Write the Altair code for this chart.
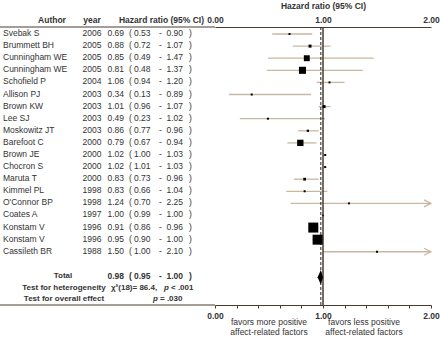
import altair as alt
import pandas as pd

# ---------------- data ----------------
authors = ["Svebak S", "Brummett BH", "Cunningham WE", "Cunningham WE", "Schofield P",
           "Allison PJ", "Brown KW", "Lee SJ", "Moskowitz JT", "Barefoot  C",
           "Brown JE", "Chocron S", "Maruta T", "Kimmel PL", "O'Connor BP",
           "Coates A", "Konstam V", "Konstam V", "Cassileth BR"]
years = [2006, 2005, 2005, 2005, 2004, 2003, 2003, 2003, 2003, 2000,
         2000, 2000, 2000, 1998, 1998, 1997, 1996, 1996, 1988]
hr = [0.69, 0.88, 0.85, 0.81, 1.06, 0.34, 1.01, 0.49, 0.86, 0.79,
      1.02, 1.02, 0.83, 0.83, 1.24, 1.00, 0.91, 0.95, 1.50]
lo = [0.53, 0.72, 0.49, 0.48, 0.94, 0.13, 0.96, 0.23, 0.77, 0.67,
      1.00, 1.01, 0.73, 0.66, 0.70, 0.99, 0.86, 0.90, 1.00]
hi = [0.90, 1.07, 1.47, 1.37, 1.20, 0.89, 1.07, 1.02, 0.96, 0.94,
      1.03, 1.03, 0.96, 1.04, 2.25, 1.00, 0.96, 1.00, 2.10]
weights = [0.8, 1.8, 7.0, 10.0, 0.8, 0.8, 1.8, 0.8, 1.0, 8.0,
           0.8, 0.8, 1.5, 0.8, 0.8, 0.5, 20.0, 20.0, 0.8]

total_hr, total_lo, total_hi = 0.98, 0.95, 1.00
het_text = "χ²(18)= 86.4,"
het_p = "< .001"
overall_p = "= .030"
bottom_ticks = [0.0, 0.2, 0.4, 0.6, 0.8, 1.0, 1.2, 1.4, 1.6, 1.8, 2.0]
favor_left = ["favors more positive", "affect-related factors"]
favor_right = ["favors less positive", "affect-related factors"]

df = pd.DataFrame({"author": authors, "year": years, "hr": hr, "lo": lo,
                   "hi": hi, "w": weights, "row": list(range(len(authors)))})

# ---------------- style ----------------
FONT = "Liberation Sans"
FS = 8.5
FSB = 8
TXT = "#333333"
AX = "#4a3b2e"
CI = "#c8b7a3"
W, H = 216, 278

xs = alt.Scale(domain=[0, 2], nice=False, zero=False)
ys = alt.Scale(domain=[-0.58, 22.4], reverse=True, nice=False, zero=False)
Y = alt.Y("row:Q", scale=ys, axis=None)

TOTAL_ROW, HET_ROW, OV_ROW = 20.1, 21.1, 22.0

top_axis = alt.Axis(orient="top", values=[0, 1, 2], format=".2f", ticks=False,
                    grid=False, domainColor=AX, domainWidth=1, labelFlush=False,
                    labelFont=FONT, labelFontSize=FS, labelFontWeight="bold",
                    labelColor=TXT, labelPadding=3,
                    title="Hazard ratio (95% CI)", titleFont=FONT, titleFontSize=FS,
                    titleFontWeight="bold", titleColor=TXT, titlePadding=5)
bottom_axis = alt.Axis(orient="bottom", values=bottom_ticks, grid=False,
                       tickSize=3, tickColor=AX, domainColor=AX, domainWidth=1,
                       labelExpr="datum.value % 1 === 0 ? format(datum.value, '.2f') : ''",
                       labelFlush=False, labelOverlap=False,
                       labelFont=FONT, labelFontSize=FS, labelFontWeight="bold",
                       labelColor=TXT, labelPadding=3, title=None)

base = alt.Chart(df)

ci = base.transform_calculate(hi_c="min(datum.hi, 2)").mark_rule(
    color=CI, strokeWidth=1.3).encode(
    x=alt.X("lo:Q", scale=xs, axis=top_axis), x2="hi_c", y=Y)

arrows = base.transform_filter("datum.hi > 2").transform_calculate(
    hi_c="min(datum.hi, 2)").mark_point(
    shape="M-1,-0.5L0,0L-1,0.5", filled=False, size=196, color=CI, strokeWidth=1.2,
    opacity=1).encode(x=alt.X("hi_c:Q", scale=xs, axis=None), y=Y)

squares = base.mark_square(color="black", opacity=1).encode(
    x=alt.X("hr:Q", scale=xs, axis=None), y=Y,
    size=alt.Size("w:Q", scale=alt.Scale(domain=[0, 20], range=[0, 100]), legend=None))

ref_df = pd.DataFrame({"v": [1.0]})
ref1 = alt.Chart(ref_df).mark_rule(color=AX, strokeWidth=1.5).encode(
    x=alt.X("v:Q", scale=xs, axis=bottom_axis))
tot_df = pd.DataFrame({"v": [total_hr]})
ref2 = alt.Chart(tot_df).mark_rule(color="#222222", strokeWidth=1, strokeDash=[3, 2]).encode(
    x=alt.X("v:Q", scale=xs, axis=None))

dia_df = pd.DataFrame({"y": [TOTAL_ROW - 0.6, TOTAL_ROW, TOTAL_ROW + 0.6],
                       "xl": [total_hr, total_lo, total_hr],
                       "xr": [total_hr, total_hi, total_hr]})
diamond = alt.Chart(dia_df).mark_area(orient="horizontal", color="black", opacity=1).encode(
    y=alt.Y("y:Q", scale=ys, axis=None),
    x=alt.X("xl:Q", scale=xs, axis=None), x2="xr")


def hline(ypx):
    return alt.Chart(pd.DataFrame({"a": [0]})).mark_rule(color=AX, strokeWidth=1).encode(
        x=alt.value(-215), x2=alt.value(0), y=alt.value(ypx))


def label(text, x, y, align="center", weight="normal", style="normal", size=FS,
          baseline="middle", **kw):
    return alt.Chart(pd.DataFrame({"t": [text]})).mark_text(
        align=align, baseline=baseline, font=FONT, fontSize=size, fontWeight=weight,
        fontStyle=style, color=TXT, **kw).encode(
        text="t", x=alt.value(x), y=alt.value(y))


def tcol(field, x, align, fmt=None):
    t = alt.Text(field, format=fmt) if fmt else alt.Text(field)
    return base.mark_text(align=align, baseline="middle", font=FONT, fontSize=FS,
                          color=TXT, dy=-1).encode(text=t, x=alt.value(x), y=Y)


def ccol(txt, x):
    return base.mark_text(align="center", baseline="middle", font=FONT, fontSize=FS,
                          color=TXT, dy=-1, text=txt).encode(x=alt.value(x), y=Y)


table = [
    tcol("author:N", -212, "left"),
    tcol("year:Q", -123, "center"),
    tcol("hr:Q", -91, "right", ".2f"),
    ccol("(", -84.5),
    tcol("lo:Q", -64.5, "right", ".2f"),
    ccol("-", -54.5),
    tcol("hi:Q", -32, "right", ".2f"),
    ccol(")", -24.5),
]


def ypx(r):
    return (r + 0.58) / 22.98 * H - 1


header = [
    label("Author", -163, -7, weight="bold"),
    label("year", -123, -7, weight="bold"),
    label("Hazard ratio (95% CI)", -53.5, -7, weight="bold"),
]

summary = [
    label("Total", -152, ypx(TOTAL_ROW), weight="bold", size=FSB),
    label(f"{total_hr:.2f}", -91, ypx(TOTAL_ROW), align="right", weight="bold"),
    label("(", -84.5, ypx(TOTAL_ROW), weight="bold"),
    label(f"{total_lo:.2f}", -64.5, ypx(TOTAL_ROW), align="right", weight="bold"),
    label("-", -54.5, ypx(TOTAL_ROW), weight="bold"),
    label(f"{total_hi:.2f}", -32, ypx(TOTAL_ROW), align="right", weight="bold"),
    label(")", -24.5, ypx(TOTAL_ROW), weight="bold"),
    label("Test for heterogeneity", -151, ypx(HET_ROW), weight="bold", size=FSB),
    label(het_text, -104, ypx(HET_ROW), align="left", weight="bold", size=FSB),
    label("p", -51, ypx(HET_ROW), align="left", weight="bold", style="italic", size=FSB),
    label(het_p, -44, ypx(HET_ROW), align="left", weight="bold", size=FSB),
    label("Test for overall effect", -151, ypx(OV_ROW), weight="bold", size=FSB),
    label("p", -62, ypx(OV_ROW), align="left", weight="bold", style="italic", size=FSB),
    label(overall_p, -55, ypx(OV_ROW), align="left", weight="bold", size=FSB),
]

favors = [
    label(favor_left, 54, 13 + H, baseline="top", lineHeight=10),
    label(favor_right, 149, 13 + H, baseline="top", lineHeight=10),
]

chart = alt.layer(
    ci, arrows, ref1, ref2, squares, diamond, hline(0), hline(H),
    *table, *header, *summary, *favors
).resolve_axis(x="independent").properties(
    width=W, height=H,
    autosize=alt.AutoSizeParams(type="none"),
    padding={"left": 215, "right": 9, "top": 27, "bottom": 35},
    background="white",
).configure_view(stroke=None)

chart.save("out.html", embed_options={"renderer": "svg", "actions": False})
